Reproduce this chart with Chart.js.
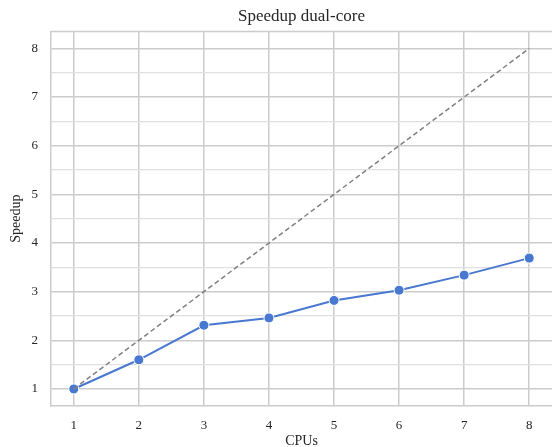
<!DOCTYPE html>
<html>
<head>
<meta charset="utf-8">
<script src="https://cdn.jsdelivr.net/npm/chart.js@4"></script>
<style>
  html, body { margin: 0; padding: 0; background: #fff; }
  #wrap { width: 552px; height: 447px; }
</style>
</head>
<body>
<div id="wrap"><canvas id="speedupChart"></canvas></div>
<script>
// data
const cpus = [1, 2, 3, 4, 5, 6, 7, 8];
const speedup = [1.00, 1.60, 2.31, 2.46, 2.82, 3.03, 3.34, 3.69];
const ideal = [1, 2, 3, 4, 5, 6, 7, 8];
const xTicks = [1, 2, 3, 4, 5, 6, 7, 8];
const yTicks = [1, 1.5, 2, 2.5, 3, 3.5, 4, 4.5, 5, 5.5, 6, 6.5, 7, 7.5, 8];

const font = "'Liberation Serif', 'DejaVu Serif', serif";
const textColor = '#262626';

// draws the top spine so the axes box looks closed
const frame = {
    id: 'frame',
    beforeDatasetsDraw(chart) {
        const { ctx, chartArea } = chart;
        ctx.save();
        ctx.strokeStyle = '#cccccc';
        ctx.lineWidth = 1.5;
        ctx.beginPath();
        ctx.moveTo(chartArea.left, chartArea.top);
        ctx.lineTo(chartArea.right, chartArea.top);
        ctx.stroke();
        ctx.restore();
    }
};

const ctx = document.getElementById('speedupChart').getContext('2d');

new Chart(ctx, {
    type: 'line',
    data: {
        datasets: [{
            label: 'ideal',
            data: cpus.map((c, i) => ({ x: c, y: ideal[i] })),
            borderColor: '#808080',
            borderWidth: 1.5,
            borderDash: [5, 3],
            pointRadius: 0,
            tension: 0
        }, {
            label: 'Speedup',
            data: cpus.map((c, i) => ({ x: c, y: speedup[i] })),
            borderColor: '#4878d0',
            backgroundColor: '#4878d0',
            borderWidth: 2,
            pointRadius: 5,
            pointBorderColor: '#ffffff',
            pointBorderWidth: 1,
            tension: 0
        }]
    },
    options: {
        responsive: true,
        maintainAspectRatio: false,
        animation: false,
        layout: { padding: 0, autoPadding: false },
        plugins: {
            legend: { display: false },
            tooltip: { enabled: false },
            title: {
                display: true,
                fullSize: false, // centre over the plot area like matplotlib
                text: 'Speedup dual-core',
                color: textColor,
                font: { family: font, size: 17, weight: 'normal' },
                padding: { top: 6, bottom: 5 }
            }
        },
        scales: {
            x: {
                type: 'linear',
                min: 0.65,
                max: 8.35,
                afterBuildTicks: (axis) => { axis.ticks = xTicks.map(v => ({ value: v })); },
                afterFit: (axis) => { axis.height = 41; },
                grid: { color: '#cccccc', lineWidth: 1.5, drawTicks: false },
                border: { display: true, color: '#cccccc', width: 1.5 },
                ticks: {
                    color: textColor,
                    padding: 12,
                    font: { family: font, size: 13 }
                },
                title: {
                    display: true,
                    text: 'CPUs',
                    color: textColor,
                    font: { family: font, size: 14 },
                    padding: { top: 0, bottom: -3 }
                }
            },
            y: {
                min: 0.65,
                max: 8.35,
                afterBuildTicks: (axis) => { axis.ticks = yTicks.map(v => ({ value: v })); },
                afterFit: (axis) => { axis.width = 51; },
                grid: {
                    color: (c) => Number.isInteger(c.tick.value) ? '#cccccc' : '#e0e0e0',
                    lineWidth: (c) => Number.isInteger(c.tick.value) ? 1.5 : 1.2,
                    drawTicks: false
                },
                border: { display: true, color: '#cccccc', width: 1.5 },
                ticks: {
                    color: textColor,
                    padding: 13,
                    font: { family: font, size: 13 },
                    callback: (v) => Number.isInteger(v) ? v : ''
                },
                title: {
                    display: true,
                    text: 'Speedup',
                    color: textColor,
                    font: { family: font, size: 14 },
                    padding: { top: 8, bottom: 0 }
                }
            }
        }
    },
    plugins: [frame]
});
</script>
</body>
</html>
